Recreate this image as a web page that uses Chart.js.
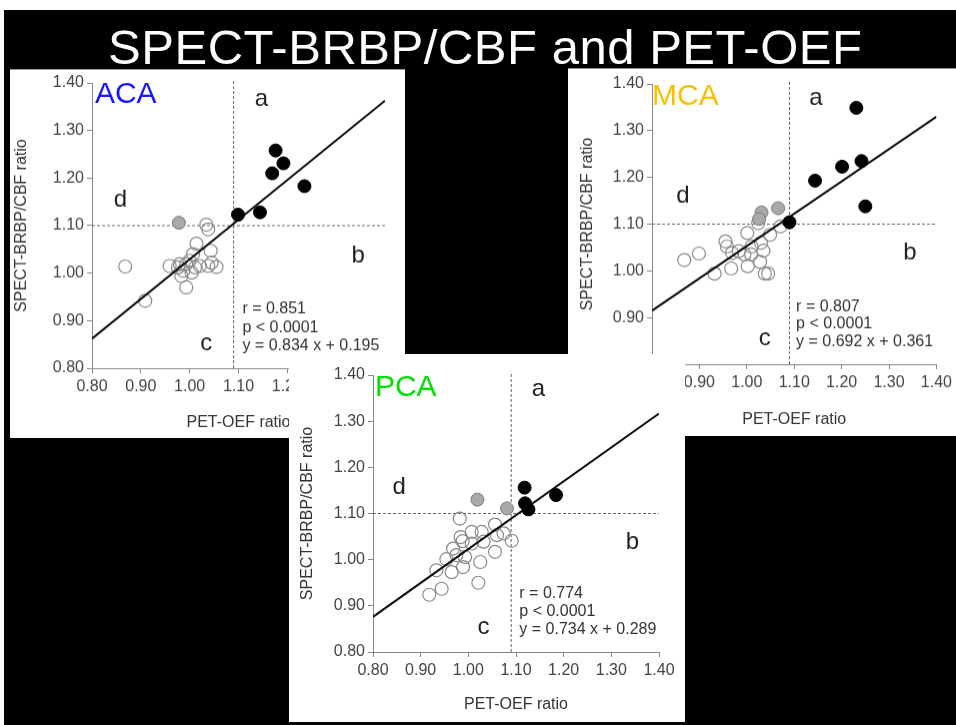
<!DOCTYPE html>
<html>
<head>
<meta charset="utf-8">
<script src="https://cdn.jsdelivr.net/npm/chart.js@4.4.0/dist/chart.umd.min.js"></script>
<style>
  html, body { margin: 0; padding: 0; background: #fff; }
  #bg { position: absolute; left: 4px; top: 10px; width: 952px; height: 715px; background: #000; }
  #title {
    position: absolute; left: 108px; top: 22px; text-align: left;
    color: #fff; font: 49px 'Liberation Sans Narrow', 'Liberation Sans', Arial, sans-serif; line-height: 50px;
    white-space: nowrap;
  }
  canvas { position: absolute; background: #fff; }
  #aca { left: 10px; top: 69px; border-top: 1px solid #999; }
  #mca { left: 568px; top: 68px; border-top: 1px solid #999; }
  #pca { left: 289px; top: 354px; z-index: 2; }
</style>
</head>
<body>
<div id="bg"></div>
<div id="title">SPECT-BRBP/CBF and PET-OEF</div>
<canvas id="aca" width="395" height="369"></canvas>
<canvas id="mca" width="388" height="368"></canvas>
<canvas id="pca" width="396" height="368"></canvas>
<script>
// ticks shared by all three panels
const tickValues = [0.80, 0.90, 1.00, 1.10, 1.20, 1.30, 1.40];
const cutOEF = 1.09;   // vertical dashed line (PET-OEF)
const cutBRBP = 1.10;  // horizontal dashed line (SPECT-BRBP/CBF)

// ACA
const acaFilledX = [1.176, 1.192, 1.169, 1.235, 1.099, 1.144];
const acaFilledY = [1.258, 1.231, 1.210, 1.183, 1.123, 1.128];
const acaGrayX = [0.978];
const acaGrayY = [1.106];
const acaOpenX = [0.868, 0.909, 1.034, 1.038, 1.014, 1.043, 1.007, 0.959, 0.976, 0.987, 0.993, 1.000, 1.011, 1.021, 1.038, 1.055, 1.045, 0.993, 0.983, 1.004, 0.980];
const acaOpenY = [1.014, 0.942, 1.102, 1.092, 1.062, 1.047, 1.040, 1.015, 1.012, 1.005, 1.019, 1.026, 1.012, 1.015, 1.015, 1.013, 1.022, 0.970, 0.994, 1.001, 1.019];
const acaFit = [0.834, 0.195];
const acaStats = ['r = 0.851', 'p < 0.0001', 'y = 0.834 x + 0.195'];

// MCA
const mcaFilledX = [1.231, 1.144, 1.201, 1.242, 1.250, 1.090];
const mcaFilledY = [1.349, 1.193, 1.223, 1.235, 1.138, 1.104];
const mcaGrayX = [1.066, 1.031, 1.026];
const mcaGrayY = [1.134, 1.125, 1.111];
const mcaOpenX = [0.868, 0.899, 0.932, 0.967, 0.955, 0.958, 0.969, 0.983, 1.001, 1.002, 0.995, 1.010, 1.024, 1.030, 1.049, 1.035, 1.028, 1.038, 1.045, 1.071, 1.009];
const mcaOpenY = [1.023, 1.037, 0.994, 1.005, 1.063, 1.052, 1.038, 1.042, 1.081, 1.010, 1.035, 1.052, 1.102, 1.060, 1.077, 1.043, 1.019, 0.994, 0.994, 1.095, 1.035];
const mcaFit = [0.692, 0.361];
const mcaStats = ['r = 0.807', 'p < 0.0001', 'y = 0.692 x + 0.361'];

// PCA
const pcaFilledX = [1.118, 1.119, 1.126, 1.184];
const pcaFilledY = [1.156, 1.122, 1.109, 1.140];
const pcaGrayX = [1.019, 1.081];
const pcaGrayY = [1.130, 1.111];
const pcaOpenX = [0.982, 0.984, 0.988, 1.007, 1.028, 1.056, 1.074, 1.091, 1.060, 1.032, 0.968, 0.954, 0.975, 0.993, 1.025, 1.056, 0.933, 0.965, 0.989, 0.944, 0.918, 1.021, 1.007];
const pcaOpenY = [1.089, 1.049, 1.040, 1.060, 1.060, 1.076, 1.057, 1.041, 1.053, 1.039, 1.024, 1.001, 1.010, 1.006, 0.995, 1.017, 0.977, 0.973, 0.984, 0.937, 0.924, 0.950, 1.035];
const pcaFit = [0.734, 0.289];
const pcaStats = ['r = 0.774', 'p < 0.0001', 'y = 0.734 x + 0.289'];

const FONT = "'Liberation Sans', Arial, sans-serif";

function toPoints(xs, ys) {
  return xs.map((x, i) => ({ x: x, y: ys[i] }));
}

// draws panel name, quadrant letters and statistics at data coordinates
const panelText = {
  id: 'panelText',
  afterDatasetsDraw(chart, args, opts) {
    const { ctx } = chart;
    const sx = chart.scales.x, sy = chart.scales.y;
    ctx.save();
    ctx.textBaseline = 'alphabetic';
    opts.items.forEach((t) => {
      ctx.font = t.font;
      ctx.fillStyle = t.color;
      ctx.textAlign = t.align || 'left';
      ctx.fillText(t.text, sx.getPixelForValue(t.x), sy.getPixelForValue(t.y));
    });
    ctx.restore();
  },
};

function makePanel(id, p) {
  const lo = tickValues[0], hi = tickValues[tickValues.length - 1];
  const letterFont = '24px ' + FONT;
  const statFont = '16px ' + FONT;
  const items = [
    { text: p.name, x: p.nameAt[0], y: p.nameAt[1], font: '30px ' + FONT, color: p.nameColor },
    { text: 'a', x: p.letters[0][0], y: p.letters[0][1], font: letterFont, color: '#222', align: 'center' },
    { text: 'b', x: p.letters[1][0], y: p.letters[1][1], font: letterFont, color: '#222', align: 'center' },
    { text: 'c', x: p.letters[2][0], y: p.letters[2][1], font: letterFont, color: '#222', align: 'center' },
    { text: 'd', x: p.letters[3][0], y: p.letters[3][1], font: letterFont, color: '#222', align: 'center' },
  ];
  p.stats.forEach((s, i) => {
    items.push({ text: s, x: p.statsAt[0], y: p.statsAt[1][i], font: statFont, color: '#333' });
  });

  const axisCommon = {
    type: 'linear',
    min: lo,
    max: hi,
    afterBuildTicks: (s) => { s.ticks = tickValues.map((v) => ({ value: v })); },
    grid: { drawOnChartArea: false, drawTicks: true, tickLength: 5, color: '#888' },
    border: { color: '#888', width: 1 },
  };

  return new Chart(document.getElementById(id), {
    type: 'scatter',
    data: {
      datasets: [
        {
          data: toPoints(p.filledX, p.filledY),
          backgroundColor: '#000', borderColor: '#000', borderWidth: 1, pointRadius: 6.5,
        },
        {
          data: toPoints(p.grayX, p.grayY),
          backgroundColor: '#a9a9a9', borderColor: '#7a7a7a', borderWidth: 1, pointRadius: 6.5,
        },
        {
          data: [lo, hi].map((x) => ({ x: x, y: p.fit[0] * x + p.fit[1] })),
          showLine: true, borderColor: '#111', borderWidth: 2, pointRadius: 0,
        },
        {
          data: toPoints(p.openX, p.openY),
          backgroundColor: 'rgba(0,0,0,0)', borderColor: '#8a8a8a', borderWidth: 1.2, pointRadius: 6.5,
        },
        {
          data: [{ x: lo, y: cutBRBP }, { x: hi, y: cutBRBP }],
          showLine: true, borderColor: '#666', borderWidth: 1, borderDash: [3, 2], pointRadius: 0,
        },
        {
          data: [{ x: cutOEF, y: lo }, { x: cutOEF, y: 1.407 }],
          showLine: true, borderColor: '#666', borderWidth: 1, borderDash: [3, 2], pointRadius: 0,
          clip: false,
        },
      ],
    },
    options: {
      responsive: false,
      animation: false,
      devicePixelRatio: 1,
      events: [],
      layout: { padding: { left: 0, top: p.padTop, right: p.padRight, bottom: 0 } },
      plugins: {
        legend: { display: false },
        tooltip: { enabled: false },
        panelText: { items: items },
      },
      scales: {
        x: Object.assign({}, axisCommon, {
          ticks: {
            color: '#444', padding: 4, font: { family: FONT, size: 16 },
            callback: (v) => Number(v).toFixed(2),
            maxRotation: 0, autoSkip: false,
          },
          title: {
            display: true, text: 'PET-OEF ratio', color: '#333',
            font: { family: FONT, size: 16 }, padding: { top: 0, bottom: p.xTitlePad },
          },
          afterFit: (s) => { s.height = p.xAxisH; },
        }),
        y: Object.assign({}, axisCommon, {
          ticks: {
            color: '#444', padding: 3, font: { family: FONT, size: 16 },
            callback: (v) => Number(v).toFixed(2),
            autoSkip: false,
          },
          title: {
            display: true, text: 'SPECT-BRBP/CBF ratio', color: '#333',
            font: { family: FONT, size: 16 }, padding: { top: p.yTitlePad, bottom: 0 },
          },
          afterFit: (s) => { s.width = p.yAxisW; },
        }),
      },
    },
    plugins: [panelText],
  });
}

document.addEventListener('DOMContentLoaded', function () {
  // stretch the heading to the width it has in the slide
  const title = document.getElementById('title');
  const text = title.textContent;
  const meas = document.createElement('canvas').getContext('2d');
  meas.font = getComputedStyle(title).font;
  const w = meas.measureText(text).width;
  title.style.letterSpacing = ((754 - w) / (text.length - 1)) + 'px';

  makePanel('aca', {
    filledX: acaFilledX, filledY: acaFilledY, grayX: acaGrayX, grayY: acaGrayY,
    openX: acaOpenX, openY: acaOpenY, fit: acaFit, stats: acaStats,
    name: 'ACA', nameColor: '#1414ff', nameAt: [0.806, 1.357],
    letters: [[1.147, 1.352], [1.345, 1.022], [1.034, 0.838], [0.858, 1.140]],
    statsAt: [1.108, [0.915, 0.876, 0.838]],
    padTop: 13, padRight: 20, yAxisW: 82, xAxisH: 70, yTitlePad: 2, xTitlePad: 6,
  });

  makePanel('mca', {
    filledX: mcaFilledX, filledY: mcaFilledY, grayX: mcaGrayX, grayY: mcaGrayY,
    openX: mcaOpenX, openY: mcaOpenY, fit: mcaFit, stats: mcaStats,
    name: 'MCA', nameColor: '#f7c000', nameAt: [0.800, 1.356],
    letters: [[1.146, 1.356], [1.344, 1.024], [1.038, 0.840], [0.865, 1.145]],
    statsAt: [1.104, [0.914, 0.877, 0.838]],
    padTop: 15, padRight: 16, yAxisW: 84, xAxisH: 72, yTitlePad: 10, xTitlePad: 7,
  });

  makePanel('pca', {
    filledX: pcaFilledX, filledY: pcaFilledY, grayX: pcaGrayX, grayY: pcaGrayY,
    openX: pcaOpenX, openY: pcaOpenY, fit: pcaFit, stats: pcaStats,
    name: 'PCA', nameColor: '#00e000', nameAt: [0.804, 1.355],
    letters: [[1.147, 1.355], [1.344, 1.024], [1.032, 0.840], [0.855, 1.143]],
    statsAt: [1.107, [0.916, 0.878, 0.840]],
    padTop: 21, padRight: 26, yAxisW: 84, xAxisH: 70, yTitlePad: 9, xTitlePad: 8,
  });
});
</script>
</body>
</html>
